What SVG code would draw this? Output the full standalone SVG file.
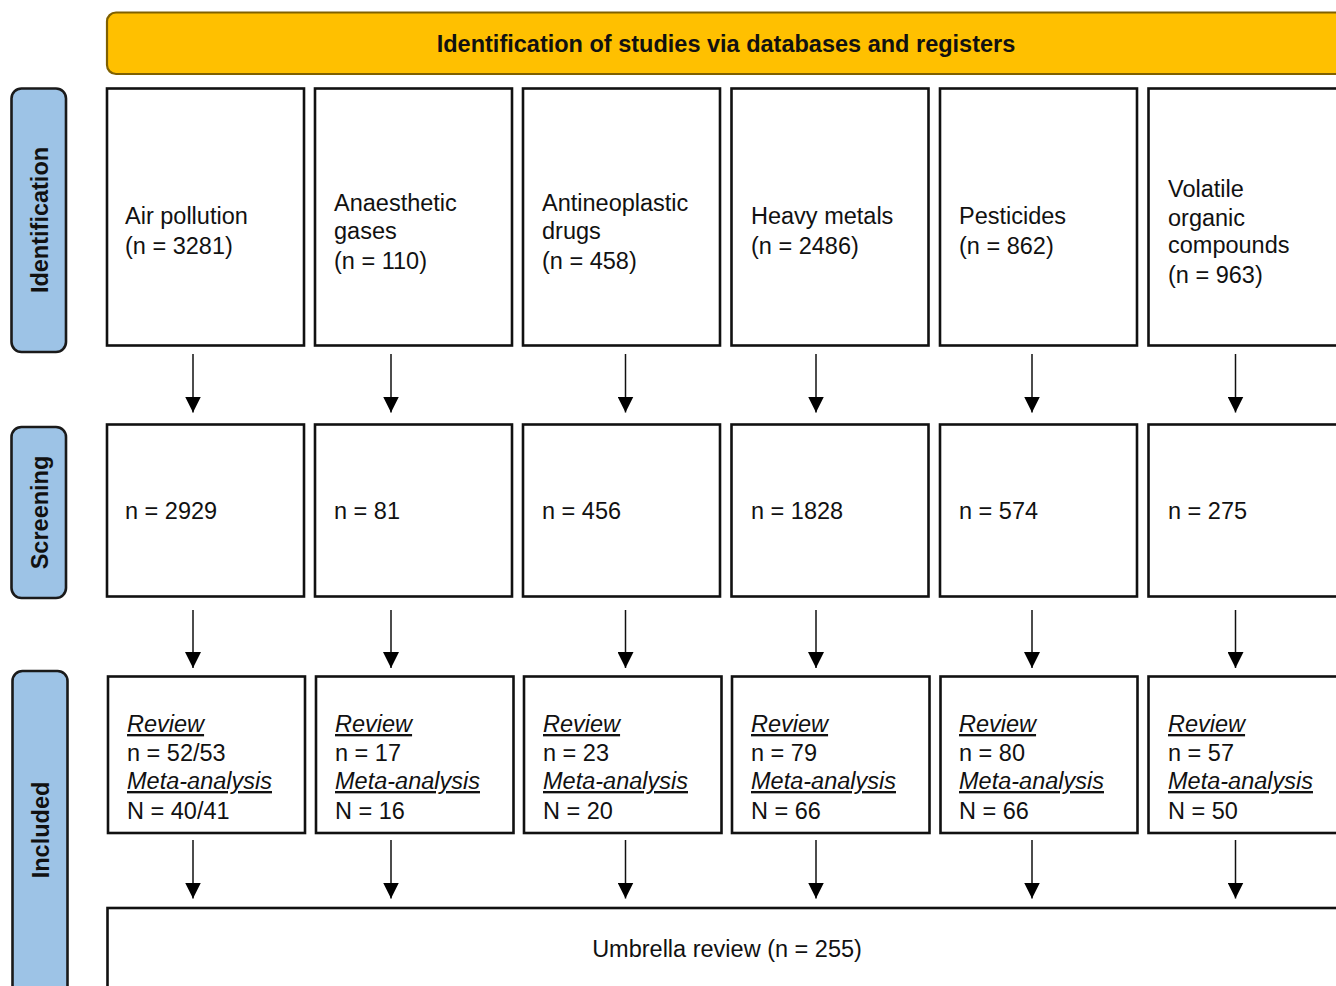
<svg xmlns="http://www.w3.org/2000/svg" width="1336" height="986" viewBox="0 0 1336 986">
<style>
.box{fill:#fff;stroke:#111;stroke-width:2.6}
.side{fill:#9DC3E6;stroke:#1a1a1a;stroke-width:2.6}
.t{font-family:"Liberation Sans",Arial,sans-serif;font-size:23.5px;fill:#111}
.sb{font-family:"Liberation Sans",Arial,sans-serif;font-size:23.5px;font-weight:bold;fill:#111;text-anchor:middle}
.u{font-style:italic;text-decoration:underline}
.c{stroke:#111;stroke-width:1.5;fill:none}
</style>
<defs>
<marker id="ah" viewBox="0 0 16 16" refX="16" refY="8" markerWidth="16" markerHeight="16" markerUnits="userSpaceOnUse" orient="auto">
<path d="M0,0 L16,8 L0,16 Z" fill="#000"/>
</marker>
</defs>

<g id="header">
<rect x="107" y="12.5" width="1245" height="61.5" rx="9" fill="#FFC000" stroke="#7F6000" stroke-width="2.2"/>
<text class="sb" x="726" y="52">Identification of studies via databases and registers</text>
</g>

<g id="side-identification">
<rect class="side" x="11.5" y="88.5" width="54.5" height="263.5" rx="10"/>
<text class="sb" transform="translate(48,220) rotate(-90)">Identification</text>
</g>
<g id="side-screening">
<rect class="side" x="11.5" y="427" width="54.5" height="171" rx="10"/>
<text class="sb" transform="translate(48,512.5) rotate(-90)">Screening</text>
</g>
<g id="side-included">
<rect class="side" x="12.5" y="671" width="55" height="340" rx="10"/>
<text class="sb" transform="translate(49,830) rotate(-90)">Included</text>
</g>

<!-- Row 1: identification -->
<g id="id-air">
<rect class="box" x="107" y="88.5" width="197" height="257"/>
<text class="t" x="125" y="224">Air pollution</text>
<text class="t" x="125" y="254">(n = 3281)</text>
</g>
<g id="id-anaesthetic">
<rect class="box" x="315" y="88.5" width="197" height="257"/>
<text class="t" x="334" y="211">Anaesthetic</text>
<text class="t" x="334" y="239">gases</text>
<text class="t" x="334" y="269">(n = 110)</text>
</g>
<g id="id-antineoplastic">
<rect class="box" x="523" y="88.5" width="197" height="257"/>
<text class="t" x="542" y="211">Antineoplastic</text>
<text class="t" x="542" y="239">drugs</text>
<text class="t" x="542" y="269">(n = 458)</text>
</g>
<g id="id-metals">
<rect class="box" x="731.5" y="88.5" width="197" height="257"/>
<text class="t" x="751" y="224">Heavy metals</text>
<text class="t" x="751" y="254">(n = 2486)</text>
</g>
<g id="id-pesticides">
<rect class="box" x="940" y="88.5" width="197" height="257"/>
<text class="t" x="959" y="224">Pesticides</text>
<text class="t" x="959" y="254">(n = 862)</text>
</g>
<g id="id-voc">
<rect class="box" x="1148.5" y="88.5" width="197" height="257"/>
<text class="t" x="1168" y="197">Volatile</text>
<text class="t" x="1168" y="226">organic</text>
<text class="t" x="1168" y="253">compounds</text>
<text class="t" x="1168" y="283">(n = 963)</text>
</g>

<!-- Row 2: screening -->
<g id="sc-air"><rect class="box" x="107" y="424.5" width="197" height="172"/><text class="t" x="125" y="519">n = 2929</text></g>
<g id="sc-anaesthetic"><rect class="box" x="315" y="424.5" width="197" height="172"/><text class="t" x="334" y="519">n = 81</text></g>
<g id="sc-antineoplastic"><rect class="box" x="523" y="424.5" width="197" height="172"/><text class="t" x="542" y="519">n = 456</text></g>
<g id="sc-metals"><rect class="box" x="731.5" y="424.5" width="197" height="172"/><text class="t" x="751" y="519">n = 1828</text></g>
<g id="sc-pesticides"><rect class="box" x="940" y="424.5" width="197" height="172"/><text class="t" x="959" y="519">n = 574</text></g>
<g id="sc-voc"><rect class="box" x="1148.5" y="424.5" width="197" height="172"/><text class="t" x="1168" y="519">n = 275</text></g>

<!-- Row 3: included -->
<g id="in-air">
<rect class="box" x="108" y="676.5" width="197" height="156.5"/>
<text class="t u" x="127" y="732">Review</text>
<text class="t" x="127" y="761">n = 52/53</text>
<text class="t u" x="127" y="789">Meta-analysis</text>
<text class="t" x="127" y="819">N = 40/41</text>
</g>
<g id="in-anaesthetic">
<rect class="box" x="316" y="676.5" width="197.5" height="156.5"/>
<text class="t u" x="335" y="732">Review</text>
<text class="t" x="335" y="761">n = 17</text>
<text class="t u" x="335" y="789">Meta-analysis</text>
<text class="t" x="335" y="819">N = 16</text>
</g>
<g id="in-antineoplastic">
<rect class="box" x="524" y="676.5" width="197.5" height="156.5"/>
<text class="t u" x="543" y="732">Review</text>
<text class="t" x="543" y="761">n = 23</text>
<text class="t u" x="543" y="789">Meta-analysis</text>
<text class="t" x="543" y="819">N = 20</text>
</g>
<g id="in-metals">
<rect class="box" x="732" y="676.5" width="197.5" height="156.5"/>
<text class="t u" x="751" y="732">Review</text>
<text class="t" x="751" y="761">n = 79</text>
<text class="t u" x="751" y="789">Meta-analysis</text>
<text class="t" x="751" y="819">N = 66</text>
</g>
<g id="in-pesticides">
<rect class="box" x="940.5" y="676.5" width="197" height="156.5"/>
<text class="t u" x="959" y="732">Review</text>
<text class="t" x="959" y="761">n = 80</text>
<text class="t u" x="959" y="789">Meta-analysis</text>
<text class="t" x="959" y="819">N = 66</text>
</g>
<g id="in-voc">
<rect class="box" x="1148.5" y="676.5" width="197" height="156.5"/>
<text class="t u" x="1168" y="732">Review</text>
<text class="t" x="1168" y="761">n = 57</text>
<text class="t u" x="1168" y="789">Meta-analysis</text>
<text class="t" x="1168" y="819">N = 50</text>
</g>

<!-- Row 4 -->
<g id="umbrella">
<rect class="box" x="107.5" y="908" width="1245" height="100"/>
<text class="t" x="727" y="957" text-anchor="middle">Umbrella review (n = 255)</text>
</g>

<g id="connectors">
<line class="c" x1="193" y1="354" x2="193" y2="412.5" marker-end="url(#ah)"/>
<line class="c" x1="391" y1="354" x2="391" y2="412.5" marker-end="url(#ah)"/>
<line class="c" x1="625.5" y1="354" x2="625.5" y2="412.5" marker-end="url(#ah)"/>
<line class="c" x1="816" y1="354" x2="816" y2="412.5" marker-end="url(#ah)"/>
<line class="c" x1="1032" y1="354" x2="1032" y2="412.5" marker-end="url(#ah)"/>
<line class="c" x1="1235.5" y1="354" x2="1235.5" y2="412.5" marker-end="url(#ah)"/>

<line class="c" x1="193" y1="610" x2="193" y2="668" marker-end="url(#ah)"/>
<line class="c" x1="391" y1="610" x2="391" y2="668" marker-end="url(#ah)"/>
<line class="c" x1="625.5" y1="610" x2="625.5" y2="668" marker-end="url(#ah)"/>
<line class="c" x1="816" y1="610" x2="816" y2="668" marker-end="url(#ah)"/>
<line class="c" x1="1032" y1="610" x2="1032" y2="668" marker-end="url(#ah)"/>
<line class="c" x1="1235.5" y1="610" x2="1235.5" y2="668" marker-end="url(#ah)"/>

<line class="c" x1="193" y1="840" x2="193" y2="898.5" marker-end="url(#ah)"/>
<line class="c" x1="391" y1="840" x2="391" y2="898.5" marker-end="url(#ah)"/>
<line class="c" x1="625.5" y1="840" x2="625.5" y2="898.5" marker-end="url(#ah)"/>
<line class="c" x1="816" y1="840" x2="816" y2="898.5" marker-end="url(#ah)"/>
<line class="c" x1="1032" y1="840" x2="1032" y2="898.5" marker-end="url(#ah)"/>
<line class="c" x1="1235.5" y1="840" x2="1235.5" y2="898.5" marker-end="url(#ah)"/>
</g>
</svg>
